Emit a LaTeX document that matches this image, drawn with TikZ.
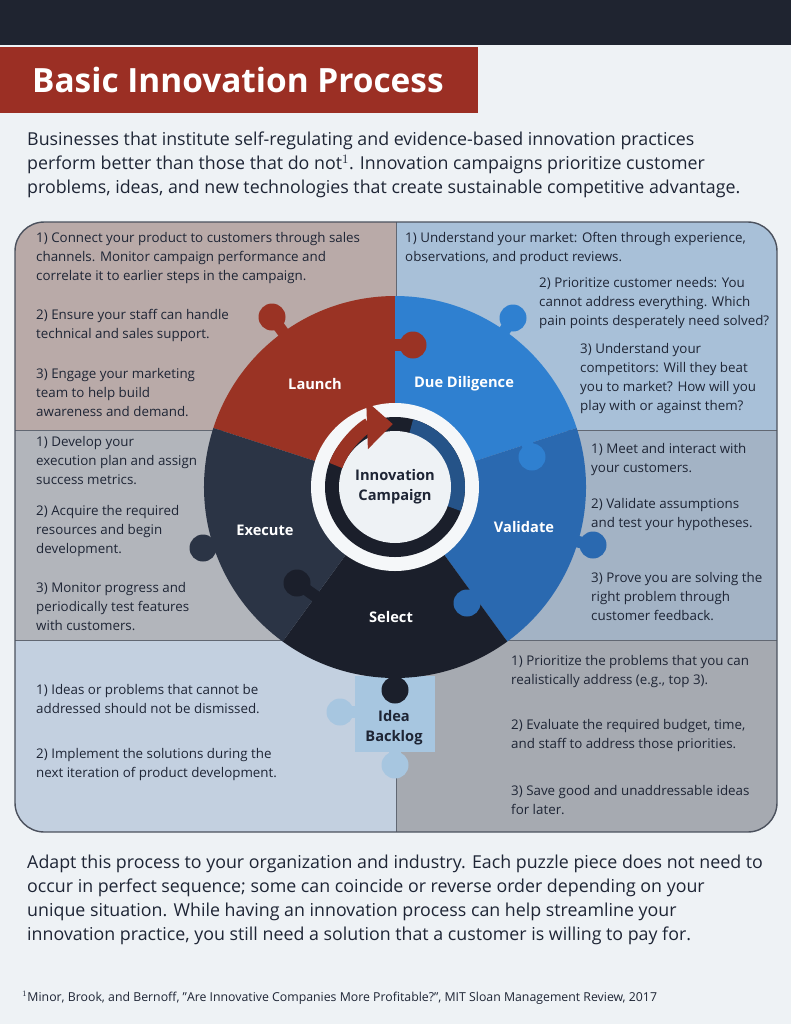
\documentclass[tikz,border=0pt]{standalone}
\usepackage{fontspec}
\setmainfont{Open Sans}
\usetikzlibrary{arrows.meta,positioning}
\definecolor{topbar}{HTML}{1F2430}
\definecolor{paper}{HTML}{EEF2F5}
\definecolor{titlered}{HTML}{9B2F24}
\definecolor{ink}{HTML}{1E2535}
\definecolor{qTL}{HTML}{B9AAA8}
\definecolor{qTR}{HTML}{A8C0D8}
\definecolor{qML}{HTML}{B2B5BB}
\definecolor{qMR}{HTML}{A3B3C5}
\definecolor{qBL}{HTML}{C3D0E0}
\definecolor{qBR}{HTML}{A6AAB1}
\definecolor{cLaunch}{HTML}{9A3324}
\definecolor{cDue}{HTML}{2F80D0}
\definecolor{cValid}{HTML}{2A69B0}
\definecolor{cSelect}{HTML}{1B1F2B}
\definecolor{cExec}{HTML}{2B3445}
\definecolor{cIdea}{HTML}{A7C6E0}
\tikzset{
  cell/.style={anchor=north west, align=left, text=ink, font=\fontsize{11.4}{16.2}\selectfont, inner sep=0pt},
  para/.style={anchor=north west, align=left, text=ink, font=\fontsize{15.2}{20.5}\selectfont, inner sep=0pt},
  seglabel/.style={text=white, font=\fontsize{12.5}{15}\selectfont\bfseries},
}
% puzzle knob: colour, centre, point where its neck joins the piece
\newcommand{\knobat}[3]{%
  \draw[#1, line width=10pt] #2 -- #3;
  \fill[#1] #2 circle[radius=13.5];}
\begin{document}
\begin{tikzpicture}[x=0.03cm, y=-0.03cm]
  \useasboundingbox (0,0) rectangle (791,1024);
  \fill[paper] (0,0) rectangle (791,1024);
  \fill[topbar] (0,0) rectangle (791,45);
  \fill[titlered] (0,47) rectangle (478,113);
  \node[anchor=west, text=white, font=\fontsize{28.5}{32}\selectfont\bfseries] (title) at (28,80) {Basic Innovation Process};

  \node[para] (intro) at (27,132) {Businesses that institute self-regulating and evidence-based innovation practices\\perform better than those that do not$^{1}$. Innovation campaigns prioritize customer\\problems, ideas, and new technologies that create sustainable competitive advantage.};

  % quadrants
  \begin{scope}
    \clip[rounded corners=25] (15,222) rectangle (777,832);
    \fill[qTL] (15,222) rectangle (396,430);
    \fill[qTR] (396,222) rectangle (777,430);
    \fill[qML] (15,430) rectangle (396,640);
    \fill[qMR] (396,430) rectangle (777,640);
    \fill[qBL] (15,640) rectangle (396,832);
    \fill[qBR] (396,640) rectangle (777,832);
    \draw[ink!70, line width=0.6pt] (396,222) -- (396,832) (15,430) -- (777,430) (15,640) -- (777,640);
  \end{scope}
  \draw[ink!80, line width=1.2pt, rounded corners=25] (15,222) rectangle (777,832);

  % idea backlog piece
  \fill[cIdea] (355,676) rectangle (435,752);
  \knobat{cIdea}{(340,712)}{(360,712)}
  \knobat{cIdea}{(395,765)}{(395,745)}

  % puzzle wheel
  \coordinate (C) at (395,487);
  \fill[cLaunch] (C) -- ++(-162:191) arc[start angle=-162, end angle=-90, radius=191] -- cycle;
  \fill[cDue] (C) -- ++(-90:191) arc[start angle=-90, end angle=-18, radius=191] -- cycle;
  \fill[cValid] (C) -- ++(-18:191) arc[start angle=-18, end angle=54, radius=191] -- cycle;
  \fill[cSelect] (C) -- ++(54:191) arc[start angle=54, end angle=126, radius=191] -- cycle;
  \fill[cExec] (C) -- ++(126:191) arc[start angle=126, end angle=198, radius=191] -- cycle;
  \knobat{cLaunch}{(272,317)}{(291,343)}
  \knobat{cLaunch}{(413,345)}{(390,345)}
  \knobat{cDue}{(513,318)}{(495,345)}
  \knobat{cDue}{(532,457)}{(526,440)}
  \knobat{cValid}{(593,545)}{(570,540)}
  \knobat{cValid}{(467,603)}{(478,594)}
  \knobat{cExec}{(203,548)}{(225,545)}
  \knobat{cSelect}{(297,583)}{(318,598)}
  \knobat{cSelect}{(395,690)}{(395,668)}

  % centre
  \fill[paper!60!white] (C) circle[radius=84];
  \fill[cSelect] (C) circle[radius=70];
  \fill[cValid!70!cSelect] (C) ++(-75:70) arc[start angle=-75, end angle=20, radius=70] -- ++(200:15) arc[start angle=20, end angle=-75, radius=55] -- cycle;
  \fill[paper] (C) circle[radius=56];
  \draw[cLaunch, line width=12pt, -{Triangle[width=40pt, length=22pt]}] (C) ++(200:63) arc[start angle=200, end angle=268, radius=63];

  \node[text=ink, align=center, font=\fontsize{12.5}{17}\selectfont\bfseries] (campaign) at (C) {Innovation\\Campaign};
  \node[seglabel] (launch) at (315,384) {Launch};
  \node[seglabel] (due) at (464,384) {Due Diligence};
  \node[seglabel] (validate) at (524,527) {Validate};
  \node[seglabel] (select) at (391,617) {Select};
  \node[seglabel] (execute) at (265,530) {Execute};
  \node[text=ink, align=center, font=\fontsize{12.5}{17}\selectfont\bfseries] (idea) at (394,728) {Idea\\Backlog};

  % cell texts
  \node[cell] (tl1) at (36,232) {1) Connect your product to customers through sales\\channels. Monitor campaign performance and\\correlate it to earlier steps in the campaign.};
  \node[cell] (tl2) at (36,309) {2) Ensure your staff can handle\\technical and sales support.};
  \node[cell] (tl3) at (36,368) {3) Engage your marketing\\team to help build\\awareness and demand.};
  \node[cell] (tr1) at (405,232) {1) Understand your market: Often through experience,\\observations, and product reviews.};
  \node[cell] (tr2) at (539,277) {2) Prioritize customer needs: You\\cannot address everything. Which\\pain points desperately need solved?};
  \node[cell] (tr3) at (580,343) {3) Understand your\\competitors: Will they beat\\you to market? How will you\\play with or against them?};
  \node[cell] (ml1) at (36,436) {1) Develop your\\execution plan and assign\\success metrics.};
  \node[cell] (ml2) at (36,505) {2) Acquire the required\\resources and begin\\development.};
  \node[cell] (ml3) at (36,582) {3) Monitor progress and\\periodically test features\\with customers.};
  \node[cell] (mr1) at (591,443) {1) Meet and interact with\\your customers.};
  \node[cell] (mr2) at (591,498) {2) Validate assumptions\\and test your hypotheses.};
  \node[cell] (mr3) at (591,572) {3) Prove you are solving the\\right problem through\\customer feedback.};
  \node[cell] (bl1) at (36,684) {1) Ideas or problems that cannot be\\addressed should not be dismissed.};
  \node[cell] (bl2) at (36,748) {2) Implement the solutions during the\\next iteration of product development.};
  \node[cell] (br1) at (511,655) {1) Prioritize the problems that you can\\realistically address (e.g., top 3).};
  \node[cell] (br2) at (511,719) {2) Evaluate the required budget, time,\\and staff to address those priorities.};
  \node[cell] (br3) at (511,785) {3) Save good and unaddressable ideas\\for later.};

  \node[para] (outro) at (27,855) {Adapt this process to your organization and industry. Each puzzle piece does not need to\\occur in perfect sequence; some can coincide or reverse order depending on your\\unique situation. While having an innovation process can help streamline your\\innovation practice, you still need a solution that a customer is willing to pay for.};
  \node[anchor=west, text=ink, font=\fontsize{10.5}{12}\selectfont, inner sep=0pt] (foot) at (22,998) {$^{1}$Minor, Brook, and Bernoff, "Are Innovative Companies More Profitable?", MIT Sloan Management Review, 2017};
\end{tikzpicture}
\end{document}
